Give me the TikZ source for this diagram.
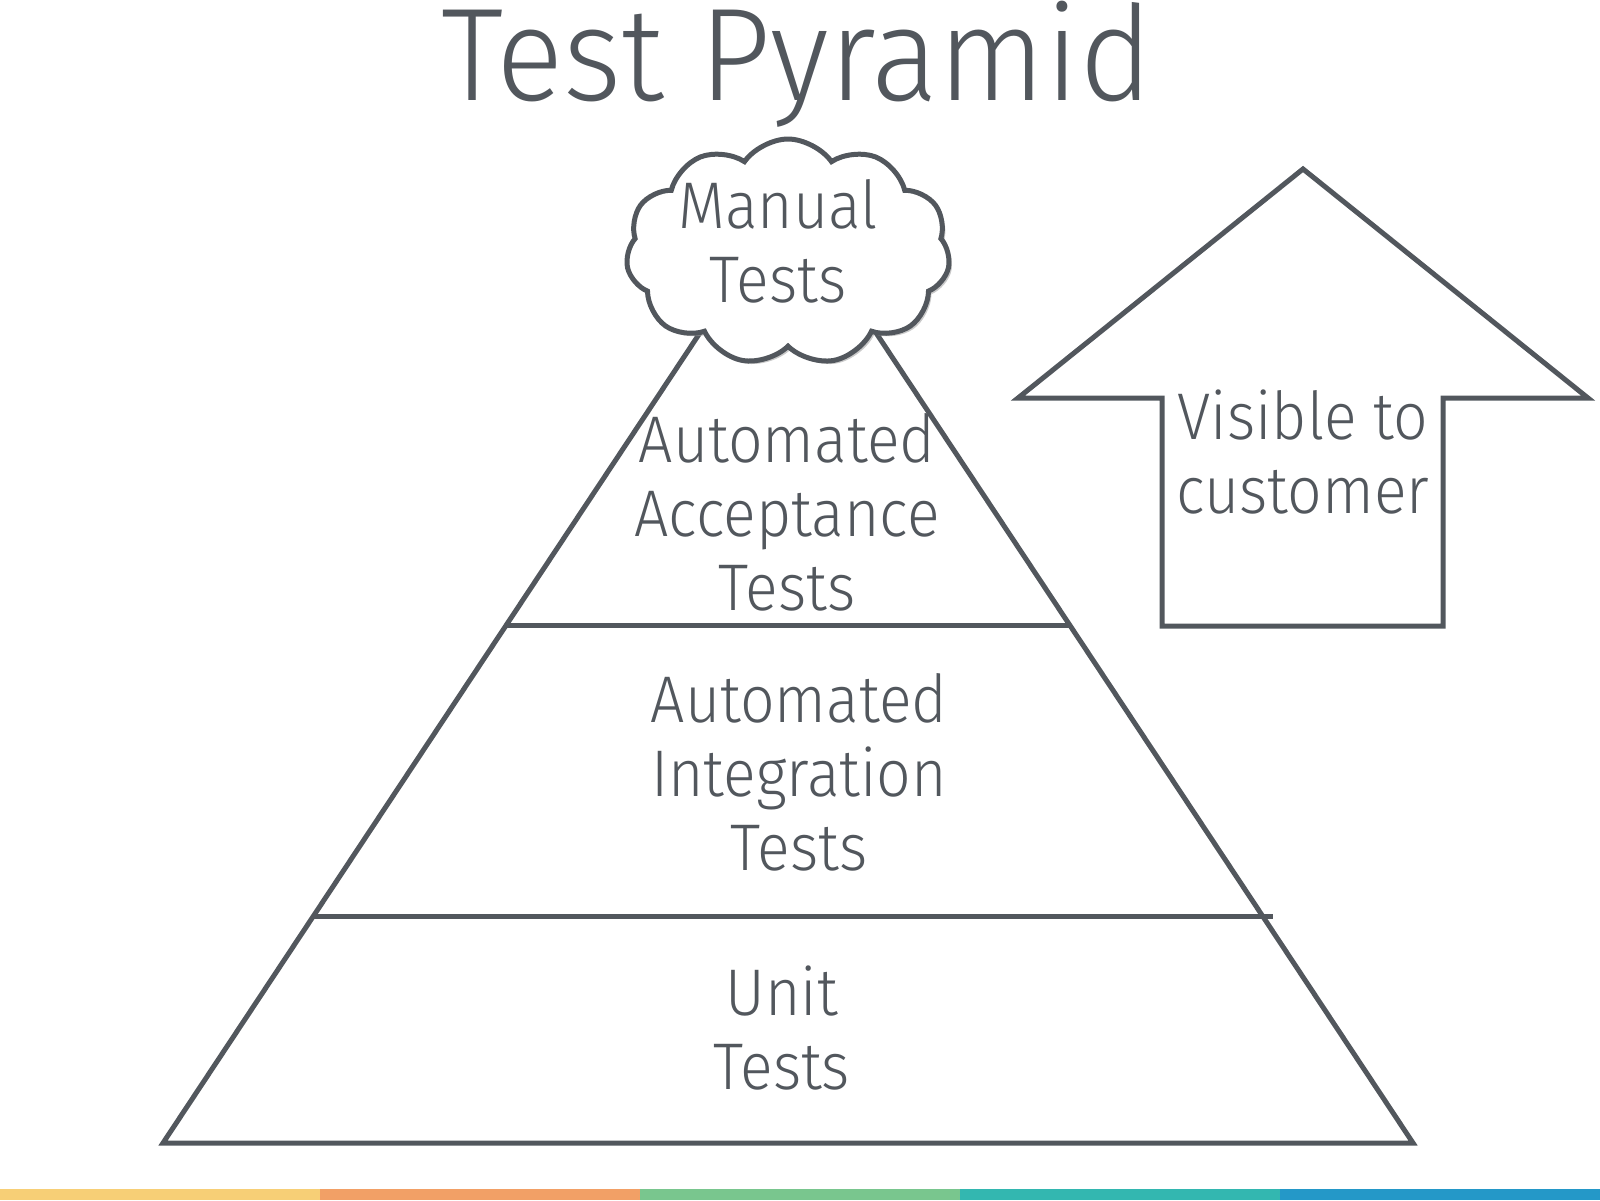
\documentclass[tikz,border=0pt]{standalone}
\usepackage{fontspec}
\setmainfont{Fira Sans}[UprightFont={* Light}]
\newfontfamily\bodyfont{Fira Sans}[UprightFont={* Light},FakeStretch=0.92]
\newfontfamily\headfont{Fira Sans}[UprightFont={* Light},FakeStretch=0.95]
\usetikzlibrary{shapes.symbols,shadows,calc}
\definecolor{ink}{RGB}{82,87,93}
\definecolor{barA}{RGB}{247,207,118}
\definecolor{barB}{RGB}{242,160,102}
\definecolor{barC}{RGB}{121,198,142}
\definecolor{barD}{RGB}{51,183,176}
\definecolor{barE}{RGB}{36,152,200}
\tikzset{
  outline/.style={draw=ink, line width=2.5pt, line join=miter},
  label/.style={text=ink, align=center, anchor=base, inner sep=0pt,
    font=\bodyfont\fontsize{33}{37}\selectfont},
  titletext/.style={text=ink, anchor=base, inner sep=0pt,
    font=\headfont\fontsize{66}{70}\selectfont},
}
\begin{document}
\begin{tikzpicture}[x=0.5pt,y=-0.5pt]
\useasboundingbox (0,0) rectangle (1600,1200);
% bottom colour bar
\fill[barA] (0,1189) rectangle (320,1200);
\fill[barB] (320,1189) rectangle (640,1200);
\fill[barC] (640,1189) rectangle (960,1200);
\fill[barD] (960,1189) rectangle (1280,1200);
\fill[barE] (1280,1189) rectangle (1600,1200);
% title
\node[titletext] (title) at (797,100) {Test Pyramid};
% pyramid
\coordinate (bl) at (163,1143);
\coordinate (br) at (1413,1143);
\coordinate (apex) at (788,200);
\draw[outline] (bl) -- (br) -- (apex) -- cycle;
\coordinate (l1) at ($(apex)!0.4507!(bl)$);
\coordinate (r1) at ($(apex)!0.4507!(br)$);
\coordinate (l2) at ($(apex)!0.7593!(bl)$);
\coordinate (r2) at ($(apex)!0.7593!(br)$);
\coordinate (r2x) at ($(r2)+(10,0)$);
\draw[outline] (l1) -- (r1);
\draw[outline] (l2) -- (r2x);
% cloud
\node[cloud, cloud puffs=11, cloud puff arc=110, aspect=1.4, outline, fill=white,
  minimum width=162pt, minimum height=113pt,
  drop shadow={shadow xshift=1.5pt, shadow yshift=-1.5pt, fill=black!35, opacity=0.6}]
  (cloud) at (788,252) {};
\node[label] (manual) at (778,302) {Manual\\Tests};
% texts
\node[label] (accept) at (787,610) {Automated\\Acceptance\\Tests};
\node[label] (integ) at (799,870) {Automated\\Integration\\Tests};
\node[label] (unit) at (782,1089) {Unit\\Tests};
% arrow
\draw[outline] (1303,169) -- (1588,398) -- (1443,398) -- (1443,626)
  -- (1162,626) -- (1162,398) -- (1018,398) -- cycle;
\node[label] (visible) at (1303,513) {Visible to\\customer};
\end{tikzpicture}
\end{document}
